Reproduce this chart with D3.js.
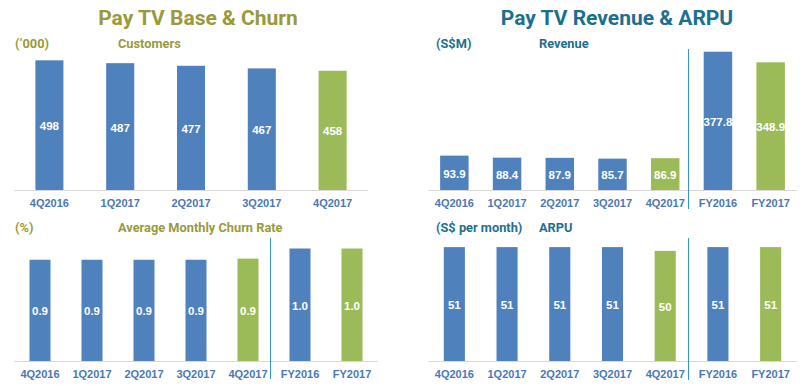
<!DOCTYPE html>
<html>
<head>
<meta charset="utf-8">
<script src="https://cdn.jsdelivr.net/npm/d3@7"></script>
<style>
  html, body { margin: 0; padding: 0; background: #fff; }
  svg { display: block; }
</style>
</head>
<body>
<div id="chart"></div>
<script>
// quarters for the customer base chart
const baseCats = ['4Q2016', '1Q2017', '2Q2017', '3Q2017', '4Q2017'];
const baseValues = [498, 487, 477, 467, 458];

// quarters + full years for the other three
const fullCats = ['4Q2016', '1Q2017', '2Q2017', '3Q2017', '4Q2017', 'FY2016', 'FY2017'];
const churnValues = [0.9, 0.9, 0.9, 0.9, 0.91, 1.0, 1.0];
const revenueValues = [93.9, 88.4, 87.9, 85.7, 86.9, 377.8, 348.9];
const arpuValues = [51.3, 51.3, 51.3, 51.3, 49.6, 51.3, 51.3];

// which bars are the current period (green)
const highlight = ['4Q2017', 'FY2017'];

const W = 800, H = 385;
const blue = '#4f81bd', green = '#9bbb59';
const olive = '#9a9a3c', teal = '#1d6f90';
const labelBlue = '#4a78b6';

const svg = d3.select('#chart').append('svg')
  .attr('width', W)
  .attr('height', H);

// big titles
svg.append('text')
  .attr('x', 198).attr('y', 25)
  .attr('text-anchor', 'middle')
  .attr('font-family', 'Roboto, sans-serif')
  .attr('font-weight', 700)
  .attr('font-size', 21)
  .attr('fill', olive)
  .text('Pay TV Base & Churn');

svg.append('text')
  .attr('x', 617).attr('y', 25)
  .attr('text-anchor', 'middle')
  .attr('font-family', 'Roboto, sans-serif')
  .attr('font-weight', 700)
  .attr('font-size', 21)
  .attr('fill', teal)
  .text('Pay TV Revenue & ARPU');

function panel(opts) {
  const g = svg.append('g');

  const x = d3.scaleBand()
    .domain(opts.cats)
    .range([opts.x0, opts.x1])
    .paddingInner(opts.pad)
    .paddingOuter(opts.pad / 2);

  const y = d3.scaleLinear()
    .domain([0, opts.max])
    .range([opts.base, opts.base - opts.max * opts.k]);

  // unit + subtitle
  g.append('text')
    .attr('x', opts.unitX).attr('y', opts.subY)
    .attr('font-family', 'Roboto, sans-serif')
    .attr('font-weight', 700)
    .attr('font-size', 12.8)
    .attr('fill', opts.color)
    .text(opts.unit);
  g.append('text')
    .attr('x', opts.subX).attr('y', opts.subY)
    .attr('font-family', 'Roboto, sans-serif')
    .attr('font-weight', 700)
    .attr('font-size', 12.8)
    .attr('fill', opts.color)
    .text(opts.sub);

  // baseline
  g.append('line')
    .attr('x1', opts.x0).attr('x2', opts.x1)
    .attr('y1', opts.base + 0.5).attr('y2', opts.base + 0.5)
    .attr('stroke', '#d9d9d9')
    .attr('stroke-width', 1);

  // separator between quarters and full years
  if (opts.cats.length > 5) {
    const sx = Math.round((x(opts.cats[4]) + x.bandwidth() + x(opts.cats[5])) / 2) - 3.5;
    g.append('line')
      .attr('x1', sx).attr('x2', sx)
      .attr('y1', opts.sepTop).attr('y2', opts.sepBottom)
      .attr('stroke', '#3399c4')
      .attr('stroke-width', 1);
  }

  const data = opts.cats.map((c, i) => ({ cat: c, value: opts.values[i] }));

  g.selectAll('rect.bar')
    .data(data)
    .join('rect')
      .classed('bar', true)
      .attr('x', d => x(d.cat))
      .attr('width', x.bandwidth())
      .attr('y', d => y(d.value))
      .attr('height', d => y(0) - y(d.value))
      .attr('fill', d => highlight.includes(d.cat) ? green : blue);

  g.selectAll('text.val')
    .data(data)
    .join('text')
      .classed('val', true)
      .attr('x', d => x(d.cat) + x.bandwidth() / 2)
      .attr('y', d => (y(d.value) + y(0)) / 2 + 5)
      .attr('text-anchor', 'middle')
      .attr('font-family', '"Liberation Sans", Arial, sans-serif')
      .attr('font-weight', 700)
      .attr('font-size', 11.5)
      .attr('fill', '#fff')
      .text(d => opts.fmt(d.value));

  g.selectAll('text.cat')
    .data(data)
    .join('text')
      .classed('cat', true)
      .attr('x', d => x(d.cat) + x.bandwidth() / 2)
      .attr('y', opts.base + 16.5)
      .attr('text-anchor', 'middle')
      .attr('font-family', '"Liberation Sans", Arial, sans-serif')
      .attr('font-weight', 700)
      .attr('font-size', 11)
      .attr('fill', labelBlue)
      .text(d => d.cat);
}

panel({
  cats: baseCats, values: baseValues, fmt: d3.format('.0f'),
  x0: 14, x1: 368, pad: 0.604, base: 190, max: 520, k: 0.2604,
  unit: "(‘000)", sub: 'Customers', unitX: 15, subX: 118, subY: 48, color: olive
});

panel({
  cats: fullCats, values: revenueValues, fmt: d3.format('.1f'),
  x0: 428, x1: 797, pad: 0.46, base: 190, max: 400, k: 0.366,
  unit: '(S$M)', sub: 'Revenue', unitX: 436, subX: 539, subY: 48, color: teal,
  sepTop: 49, sepBottom: 209
});

panel({
  cats: fullCats, values: churnValues, fmt: d3.format('.1f'),
  x0: 14, x1: 378, pad: 0.596, base: 361, max: 1.2, k: 112.5,
  unit: '(%)', sub: 'Average Monthly Churn Rate', unitX: 15, subX: 118, subY: 232, color: olive,
  sepTop: 238, sepBottom: 379
});

panel({
  cats: fullCats, values: arpuValues, fmt: d3.format('.0f'),
  x0: 428, x1: 797, pad: 0.6, base: 361, max: 60, k: 2.22,
  unit: '(S$ per month)', sub: 'ARPU', unitX: 436, subX: 539, subY: 232, color: teal,
  sepTop: 238, sepBottom: 380
});
</script>
</body>
</html>
